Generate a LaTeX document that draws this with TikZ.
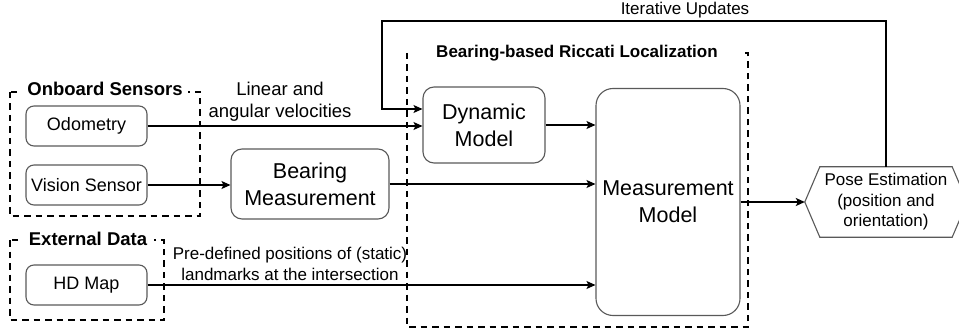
\documentclass[tikz,border=0pt]{standalone}
\usepackage{fontspec}
\setmainfont{Liberation Sans}
\usetikzlibrary{arrows.meta}
\begin{document}
\begin{tikzpicture}[x=1pt,y=-1pt,
  blk/.style={draw=black!65, line width=1.1pt, rounded corners=8pt, align=center, inner sep=0pt},
  bigblk/.style={blk, rounded corners=11pt, font=\fontsize{21.5}{27}\selectfont},
  smallblk/.style={blk, minimum width=121pt, minimum height=40pt, font=\fontsize{18}{22}\selectfont},
  grp/.style={draw=black, line width=1.9pt, dash pattern=on 6.5pt off 5pt},
  gtitle/.style={fill=white, font=\bfseries\fontsize{18.5}{22}\selectfont, inner ysep=1pt},
  link/.style={draw=black, line width=1.4pt, -{Stealth[length=9pt,width=8pt,inset=2pt]}},
  lbl/.style={font=\fontsize{17}{21.5}\selectfont, align=center, inner sep=0pt},
]
\useasboundingbox (0,0) rectangle (959,334);
\clip (0,0) rectangle (959,334);

% dashed group frames
\draw[grp] (10,92) rectangle (200,216);
\draw[grp] (10,240) rectangle (164,320);
\draw[grp] (407,53) rectangle (748,327);
\node[gtitle, inner xsep=5pt] (tonb) at (105,89) {Onboard Sensors};
\node[gtitle, inner xsep=7pt] (text) at (88,239) {External Data};
\node[gtitle, inner xsep=26pt, font=\bfseries\fontsize{17}{21}\selectfont] (tbrl) at (577,53) {Bearing-based Riccati Localization};

% input blocks
\node[smallblk] (odo) at (86.5,126) {Odometry};
\node[smallblk] (vis) at (86.5,185) {Vision Sensor};
\node[smallblk] (hd)  at (86.5,285) {HD Map};

% processing blocks
\node[bigblk, minimum width=158pt, minimum height=70pt] (bear) at (310,184) {Bearing\\Measurement};
\node[bigblk, minimum width=122pt, minimum height=76pt] (dyn) at (484,125) {Dynamic\\Model};
\node[bigblk, rounded corners=17pt, minimum width=144pt, minimum height=227pt] (meas) at (668,202) {Measurement\\Model};

% output block (hexagon)
\node[align=center, inner sep=0pt, minimum width=162pt, minimum height=70pt,
      font=\fontsize{17}{20.5}\selectfont] (pose) at (886,202)
      {Pose Estimation\\(position and\\orientation)};
\draw[draw=black!65, line width=1.1pt]
  (pose.west) -- ([xshift=15pt]pose.north west) -- ([xshift=-15pt]pose.north east)
  -- (pose.east) -- ([xshift=-15pt]pose.south east) -- ([xshift=15pt]pose.south west) -- cycle;

% connectors
\draw[link] (odo.east) -- (odo.east -| dyn.west);
\draw[link] (vis.east) -- (vis.east -| bear.west);
\draw[link] (bear.east) -- (bear.east -| meas.west);
\draw[link] (dyn.east) -- (dyn.east -| meas.west);
\draw[link] (hd.east) -- (hd.east -| meas.west);
\draw[link] (meas.east) -- (pose.west);
\coordinate (loop) at (382,21);
\draw[link] (pose.north) |- (loop) |- ([yshift=16pt]dyn.west);

% connector labels
\node[lbl, font=\fontsize{18.5}{22}\selectfont] (lvel) at (280,101.5) {Linear and\\angular velocities};
\node[lbl] (lmap) at (290,264) {Pre-defined positions of (static)\\landmarks at the intersection};
\node[lbl] (liter) at (685,10) {Iterative Updates};
\end{tikzpicture}
\end{document}
